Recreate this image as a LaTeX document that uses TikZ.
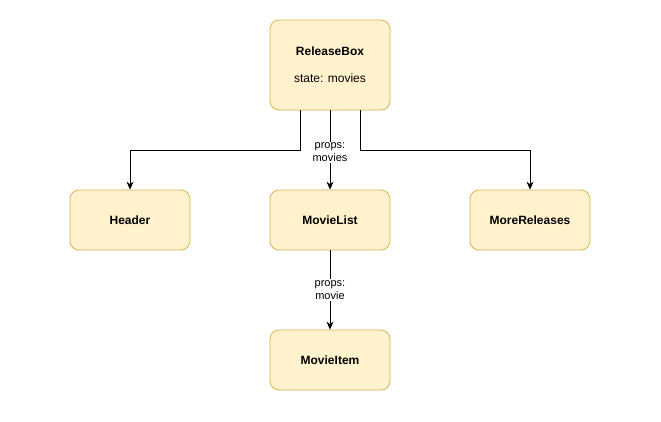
\documentclass[tikz,border=0pt]{standalone}
\usepackage{fontspec}
\setmainfont{Liberation Sans}
\usetikzlibrary{arrows.meta}
\definecolor{boxfill}{HTML}{FFF2CC}
\definecolor{boxline}{HTML}{D6B656}
\begin{document}
\begin{tikzpicture}[x=1pt,y=-1pt,
  comp/.style={draw=boxline,fill=boxfill,rounded corners=9pt,minimum width=120pt,minimum height=60pt,inner sep=0pt,font=\fontsize{12}{14}\selectfont\bfseries,line width=0.8pt},
  conn/.style={draw=black,line width=0.8pt,-{Stealth[length=8pt,width=7pt]}},
  lbl/.style={fill=white,inner sep=1pt,align=center,font=\fontsize{11}{13}\selectfont}]
\useasboundingbox (0,0) rectangle (661,421);
\node[comp,minimum height=90pt,align=center] (rb) at (330,65) {ReleaseBox\\[13pt]\mdseries state: movies};
\node[comp] (hd) at (130,220) {Header};
\node[comp] (ml) at (330,220) {MovieList};
\node[comp] (mr) at (530,220) {MoreReleases};
\node[comp] (mi) at (330,360) {MovieItem};
\draw[conn] ([xshift=-30pt]rb.south) |- (130,150) -- (hd.north);
\draw[conn] ([xshift=30pt]rb.south) |- (530,150) -- (mr.north);
\draw[conn] (rb.south) -- node[lbl,pos=0.53] (l1) {props:\\movies} (ml.north);
\draw[conn] (ml.south) -- node[lbl,pos=0.5] (l2) {props:\\movie} (mi.north);
\end{tikzpicture}
\end{document}
